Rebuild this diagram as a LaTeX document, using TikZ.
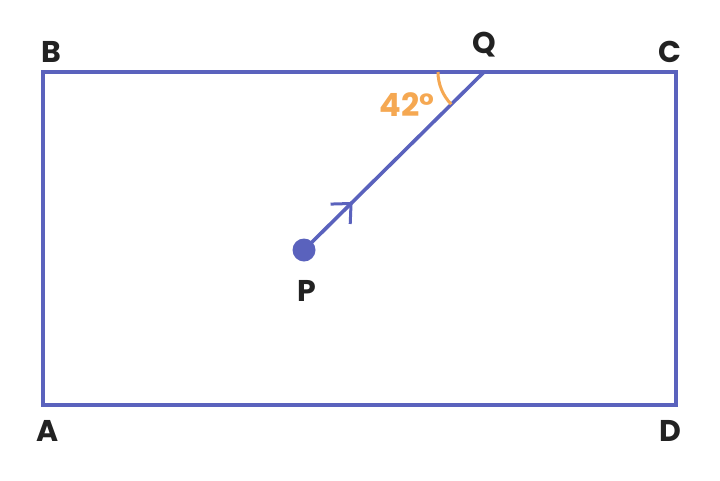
\documentclass[tikz,border=0pt]{standalone}
\usepackage{fontspec}
\setmainfont{Poppins}
\usetikzlibrary{arrows.meta,decorations.markings,calc}
\definecolor{lineblue}{HTML}{5A62BD}
\definecolor{angorange}{HTML}{F5A852}
\definecolor{txt}{HTML}{222222}
\tikzset{
  edge/.style={draw=lineblue,line width=3.6pt},
  lbl/.style={text=txt,font=\fontsize{30}{30}\selectfont\bfseries,inner sep=0pt},
  ang/.style={draw=angorange,line width=3pt},
  anglbl/.style={text=angorange,font=\fontsize{32}{32}\selectfont\bfseries,inner sep=0pt},
  midarrow/.style={postaction={decorate},decoration={markings,mark=at position #1 with {\arrow{Straight Barb[length=15pt,width=28pt,line width=3pt]}}}}
}
\begin{document}
\begin{tikzpicture}[x=1pt,y=-1pt]
\useasboundingbox (0,0) rectangle (720,480);
\coordinate (A) at (43,405);
\coordinate (B) at (43,72);
\coordinate (C) at (676,72);
\coordinate (D) at (676,405);
\coordinate (Q) at (484,72);
\coordinate (P) at (304,250);
\draw[edge,line join=miter] (A) -- (B) -- (C) -- (D) -- cycle;
\draw[edge,midarrow=0.27] (P) -- (Q);
\fill[lineblue] (P) circle (11.5);
\draw[ang] ($(Q)+(180:46)$) arc[start angle=180,end angle=135.5,radius=46];
\node[lbl] (lA) at (48,431) {A};
\node[lbl] (lB) at (51,52) {B};
\node[lbl] (lC) at (670,52) {C};
\node[lbl] (lD) at (670,431) {D};
\node[lbl] (lQ) at (484,45) {Q};
\node[lbl] (lP) at (307,291) {P};
\node[anglbl] (la) at (407,105) {42°};
\end{tikzpicture}
\end{document}
